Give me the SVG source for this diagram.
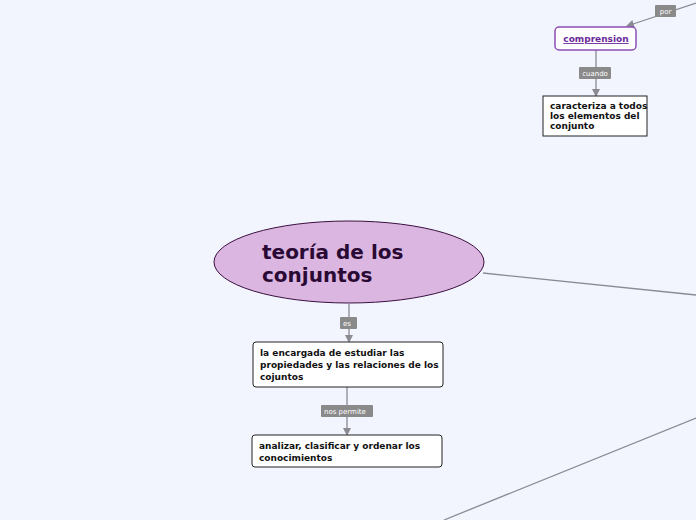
<svg xmlns="http://www.w3.org/2000/svg" width="696" height="520" viewBox="0 0 696 520">
<style>
text{font-family:"DejaVu Sans","Liberation Sans",sans-serif}
.c{stroke:#8a8a90;stroke-width:1.3;fill:none}
.lb{fill:#8a8a8a}
.lt{fill:#fff;font-size:7px}
.box{fill:#fff;stroke:#222;stroke-width:1}
.bt{font-size:9px;font-weight:bold;fill:#111}
</style>
<defs><marker id="a" markerWidth="8" markerHeight="8" refX="7" refY="4" orient="auto" markerUnits="userSpaceOnUse"><path d="M0,0L8,4L0,8z" fill="#8a8a90"/></marker></defs>
<rect width="696" height="520" fill="#f2f4fe"/>
<g id="connectors">
<path class="c" d="M696,3L627,26" marker-end="url(#a)"/>
<path class="c" d="M596,50V96" marker-end="url(#a)"/>
<path class="c" d="M483,273L696,295"/>
<path class="c" d="M349,304V342" marker-end="url(#a)"/>
<path class="c" d="M347,387V435" marker-end="url(#a)"/>
<path class="c" d="M696,418L444,520"/>
<rect class="lb" x="655" y="5" width="21" height="12" rx="1"/><text class="lt" x="665.5" y="13.5" text-anchor="middle">por</text>
<rect class="lb" x="579" y="67" width="32" height="12" rx="1"/><text class="lt" x="595" y="75.5" text-anchor="middle">cuando</text>
<rect class="lb" x="340" y="317" width="17" height="12" rx="1"/><text class="lt" x="347" y="325.5" text-anchor="middle">es</text>
<rect class="lb" x="321" y="405" width="52" height="12" rx="1"/><text class="lt" x="324" y="413.5">nos permite</text>
</g>
<g id="comprension"><rect x="555" y="27" width="81" height="23" rx="4" fill="#fff" stroke="#8a4fb5" stroke-width="1.5"/><text x="596" y="42" text-anchor="middle" font-size="9" font-weight="bold" fill="#6a2a9a" text-decoration="underline">comprension</text></g>
<g id="caracteriza"><rect class="box" x="543" y="96" width="104" height="40"/><text class="bt" x="550" y="109">caracteriza a todos</text><text class="bt" x="550" y="119">los elementos del</text><text class="bt" x="550" y="129">conjunto</text></g>
<g id="teoria"><ellipse cx="349" cy="262" rx="135" ry="41" fill="#dbb6e0" stroke="#3a1040" stroke-width="1"/><text x="262" y="259" font-size="20" font-weight="bold" fill="#2a0a35">teoría de los</text><text x="262" y="282" font-size="20" font-weight="bold" fill="#2a0a35">conjuntos</text></g>
<g id="encargada"><rect class="box" x="253" y="342" width="190" height="45" rx="3"/><text class="bt" x="260" y="356">la encargada de estudiar las</text><text class="bt" x="260" y="368">propiedades y las relaciones de los</text><text class="bt" x="260" y="380">cojuntos</text></g>
<g id="analizar"><rect class="box" x="252" y="435" width="190" height="32" rx="3"/><text class="bt" x="259" y="449">analizar, clasificar y ordenar los</text><text class="bt" x="259" y="461">conocimientos</text></g>
</svg>
